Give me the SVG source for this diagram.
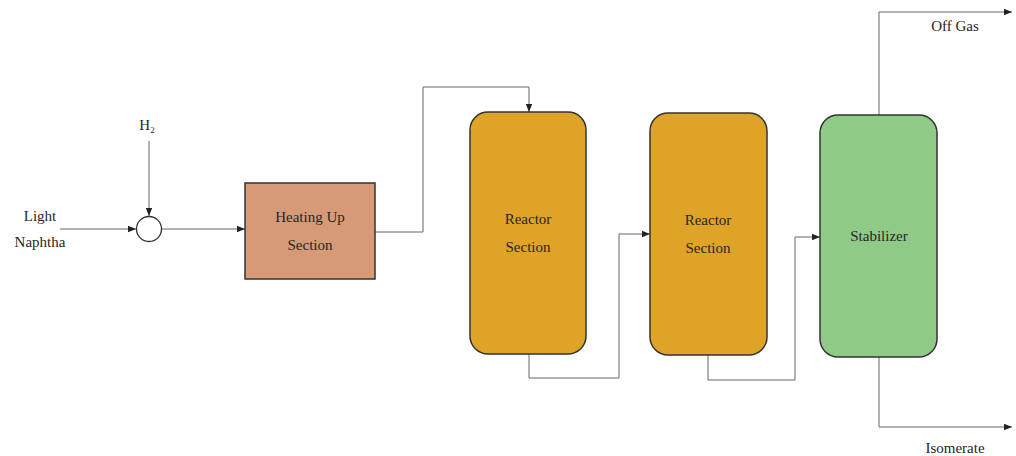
<svg xmlns="http://www.w3.org/2000/svg" width="1016" height="456" viewBox="0 0 1016 456">
<style>
text{font-family:'Liberation Serif','DejaVu Serif',serif;font-size:15px;fill:#262626;text-anchor:middle}
.c{fill:none;stroke:#666;stroke-width:1}
.box{stroke:#333;stroke-width:1.5}
</style>
<defs>
<marker id="a" viewBox="0 0 10 10" refX="10" refY="5" markerWidth="8" markerHeight="8" orient="auto" markerUnits="userSpaceOnUse">
<path d="M0,1 L10,5 L0,9 Z" fill="#222"/>
</marker>
</defs>
<rect width="1016" height="456" fill="#fff"/>
<g id="connectors">
<path class="c" d="M60,229 H136" marker-end="url(#a)"/>
<path class="c" d="M149,141 V216" marker-end="url(#a)"/>
<path class="c" d="M162,229 H245" marker-end="url(#a)"/>
<path class="c" d="M375,232 H423 V87 H529 V112" marker-end="url(#a)"/>
<path class="c" d="M529,354 V378 H619 V234 H650" marker-end="url(#a)"/>
<path class="c" d="M708,355 V380 H795 V237 H820" marker-end="url(#a)"/>
<path class="c" d="M879,115 V12 H1012" marker-end="url(#a)"/>
<path class="c" d="M879,357 V427 H1012" marker-end="url(#a)"/>
</g>
<g id="feed-label">
<text x="40" y="221">Light</text>
<text x="40" y="247">Naphtha</text>
</g>
<g id="h2-label">
<text x="147" y="130">H<tspan font-size="9" dy="3">2</tspan></text>
</g>
<g id="mixer">
<circle cx="149" cy="229" r="12.5" fill="#fff" stroke="#333" stroke-width="1.3"/>
</g>
<g id="heating">
<rect class="box" x="245" y="183" width="130" height="96" fill="#d69a77"/>
<text x="310" y="222">Heating Up</text>
<text x="310" y="250">Section</text>
</g>
<g id="reactor1">
<rect class="box" x="470" y="112" width="116" height="242" rx="18" fill="#dfa427"/>
<text x="528" y="224">Reactor</text>
<text x="528" y="252">Section</text>
</g>
<g id="reactor2">
<rect class="box" x="650" y="113" width="117" height="242" rx="18" fill="#dfa427"/>
<text x="708" y="225">Reactor</text>
<text x="708" y="253">Section</text>
</g>
<g id="stabilizer">
<rect class="box" x="820" y="115" width="117" height="242" rx="18" fill="#8fca86"/>
<text x="879" y="241">Stabilizer</text>
</g>
<g id="offgas-label"><text x="955" y="31">Off Gas</text></g>
<g id="isomerate-label"><text x="955" y="453">Isomerate</text></g>
</svg>
